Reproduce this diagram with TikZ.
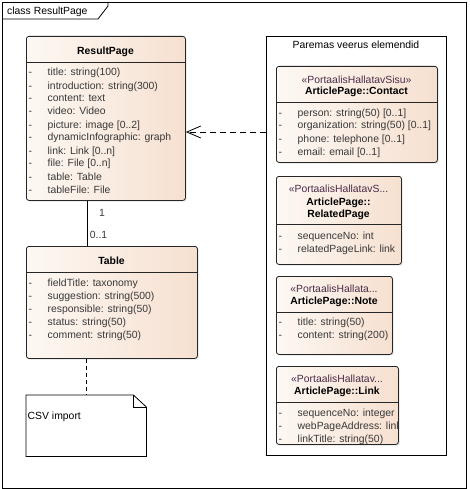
\documentclass[tikz,border=0pt]{standalone}
\usepackage{fontspec}
\setmainfont{Liberation Sans}
\usepackage{xcolor}
\usetikzlibrary{shadows,arrows.meta}
\definecolor{clsleft}{HTML}{FDF8F3}
\definecolor{clsright}{HTML}{F6E0D0}
\definecolor{attrgray}{HTML}{383838}
\definecolor{stereopurple}{HTML}{4A2A48}
\newcommand{\umlattr}[1]{\strut\makebox[19pt][l]{-}#1}

\begin{document}
\begin{tikzpicture}[x=1pt,y=-1pt]
\tikzstyle{every node}+=[inner sep=0pt, font=\fontsize{10.4}{13}\selectfont]
\tikzstyle{umlclass}=[draw=black!85, line width=0.8pt, rounded corners=2.5pt, left color=clsleft, right color=clsright, drop shadow={shadow xshift=1.3pt, shadow yshift=-1.3pt, opacity=0.22}, anchor=north west]
\tikzstyle{clsname}=[anchor=base, font=\fontsize{10.4}{13}\selectfont\bfseries]
\tikzstyle{stereo}=[anchor=base, text=stereopurple]
\tikzstyle{attrlist}=[anchor=north west, align=left, text=attrgray]
\tikzstyle{sepline}=[draw=black!85, line width=0.8pt]
\useasboundingbox (0,0) rectangle (470,489);
\draw [black, line width=0.8pt] (2,2) rectangle (466,488);
\draw [black, line width=0.8pt] (2,19) -- (98,19) -- (108,6) -- (108,2);
\node [anchor=base west] (framelabel) at (7,15) {class ResultPage};
\node [draw=black, line width=0.8pt, fill=white, anchor=north west, minimum width=180pt, minimum height=419pt] (rightcol) at (266,36) {};
\node [anchor=base] (rightcoltitle) at (356,48.5) {Paremas veerus elemendid};
\node [umlclass, minimum width=159pt, minimum height=164pt] (resultpage) at (26,36) {};
\node [clsname] (resultpagename) at (105.5,55) {ResultPage};
\draw [sepline] (resultpage.west |- 0,62) -- (resultpage.east |- 0,62);
\node [attrlist] (resultpageattrs) at (28.5,66.7) {\umlattr{title: string(100)}\\\umlattr{introduction: string(300)}\\\umlattr{content: text}\\\umlattr{video: Video}\\\umlattr{picture: image [0..2]}\\\umlattr{dynamicInfographic: graph}\\\umlattr{link: Link [0..n]}\\\umlattr{file: File [0..n]}\\\umlattr{table: Table}\\\umlattr{tableFile: File}};
\node [umlclass, minimum width=171pt, minimum height=112pt] (table) at (26,246) {};
\node [clsname] (tablename) at (111.5,264.5) {Table};
\draw [sepline] (table.west |- 0,272) -- (table.east |- 0,272);
\node [attrlist] (tableattrs) at (28.5,277.1) {\umlattr{fieldTitle: taxonomy}\\\umlattr{suggestion: string(500)}\\\umlattr{responsible: string(50)}\\\umlattr{status: string(50)}\\\umlattr{comment: string(50)}};
\draw [black, line width=0.8pt] (resultpage.south -| 87,0) -- (table.north -| 87,0);
\node [anchor=base, text=attrgray] (resultend) at (102,216.5) {1};
\node [anchor=base, text=attrgray] (tableend) at (98.5,238.5) {0..1};
\node [anchor=north west, minimum width=120pt, minimum height=61pt] (csvnote) at (26,395) {};
\draw [black, line width=0.8pt, fill=white] (csvnote.north west) -- ([xshift=-13pt]csvnote.north east) -- ([yshift=-12pt]csvnote.north east) -- (csvnote.south east) -- (csvnote.south west) -- cycle;
\draw [black, line width=0.8pt] ([xshift=-13pt]csvnote.north east) -- ([xshift=-13pt,yshift=-12pt]csvnote.north east) -- ([yshift=-12pt]csvnote.north east);
\node [anchor=base west] (csvnotetext) at (27.5,419.5) {CSV import};
\draw [black, line width=0.8pt, dash pattern=on 4pt off 3pt] (table.south -| 86,0) -- (csvnote.north -| 86,0);
\node [umlclass, minimum width=161pt, minimum height=96pt] (contact) at (276,66) {};
\node [stereo] (contactstereo) at (356.5,83.5) {«PortaalisHallatavSisu»};
\node [clsname] (contactname) at (356.5,95) {ArticlePage::Contact};
\draw [sepline] (contact.west |- 0,102) -- (contact.east |- 0,102);
\node [attrlist] (contactattrs) at (278.5,106.7) {\umlattr{person: string(50) [0..1]}\\\umlattr{organization: string(50) [0..1]}\\\umlattr{phone: telephone [0..1]}\\\umlattr{email: email [0..1]}};
\node [umlclass, minimum width=125pt, minimum height=88pt] (relatedpage) at (276,176) {};
\node [stereo] (relatedpagestereo) at (338.5,192.5) {«PortaalisHallatavS...};
\node [clsname] (relatedpagename) at (338.5,205.5) {ArticlePage::};
\node [clsname] (relatedpagename2) at (338.5,217) {RelatedPage};
\draw [sepline] (relatedpage.west |- 0,224.5) -- (relatedpage.east |- 0,224.5);
\node [attrlist] (relatedpageattrs) at (278.5,230.4) {\umlattr{sequenceNo: int}\\\umlattr{relatedPageLink: link}};
\node [umlclass, minimum width=116pt, minimum height=78pt] (note) at (276,276) {};
\node [stereo] (notestereo) at (334,292) {«PortaalisHallata...};
\node [clsname] (notename) at (334,304.5) {ArticlePage::Note};
\draw [sepline] (note.west |- 0,312) -- (note.east |- 0,312);
\node [attrlist] (noteattrs) at (278.5,316.4) {\umlattr{title: string(50)}\\\umlattr{content: string(200)}};
\node [umlclass, minimum width=122pt, minimum height=78pt] (link) at (276,366) {};
\node [stereo] (linkstereo) at (337,382) {«PortaalisHallatav...};
\node [clsname] (linkname) at (337,394.5) {ArticlePage::Link};
\draw [sepline] (link.west |- 0,402) -- (link.east |- 0,402);
\begin{scope}
\clip (link.north west) rectangle ([xshift=-0.5pt]link.south east);
\node [attrlist] (linkattrs) at (278.5,407.4) {\umlattr{sequenceNo: integer}\\\umlattr{webPageAddress: link}\\\umlattr{linkTitle: string(50)}};
\end{scope}
\draw [black, line width=0.8pt, dash pattern=on 6pt off 4pt, -{Straight Barb[length=14pt, width=12pt]}] (rightcol.west |- 0,132) -- (resultpage.east |- 0,132);
\end{tikzpicture}
\end{document}
